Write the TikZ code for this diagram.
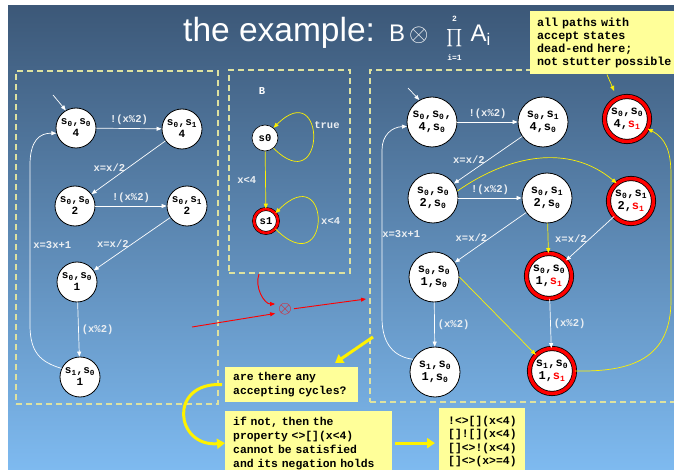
\documentclass[tikz,border=0pt]{standalone}
\usepackage{exscale}
\usepackage{fontspec}
\setmainfont{Liberation Sans}
\setmonofont{Liberation Mono}
\usetikzlibrary{arrows.meta}

\definecolor{bgtop}{RGB}{60,88,120}
\definecolor{bgbot}{RGB}{126,186,240}
\definecolor{dashc}{RGB}{222,226,160}
\definecolor{notec}{RGB}{255,255,153}
\definecolor{lblc}{RGB}{234,238,242}

\newcommand{\sn}[1]{s\textsubscript{#1}}
\newcommand{\sr}[1]{\textcolor{red}{s\textsubscript{#1}}}

\begin{document}
\begin{tikzpicture}[x=1pt, y=-1pt]
	\tikzstyle{panel} = [rectangle, draw=dashc, line width=1.2pt, dash pattern=on 6pt off 4pt, inner sep=0pt]
	\tikzstyle{lstate} = [circle, draw=black, line width=0.8pt, fill=white, minimum size=40pt, inner sep=0pt, align=center, font=\ttfamily\bfseries\fontsize{11}{12}\selectfont]
	\tikzstyle{rstate} = [lstate, minimum size=50pt, font=\ttfamily\bfseries\fontsize{12}{12.5}\selectfont]
	\tikzstyle{accept} = [rstate, minimum size=45pt, double=red, double distance=3.5pt]
	\tikzstyle{mstate} = [circle, draw=black, line width=0.6pt, fill=white, minimum size=26pt, inner sep=0pt, font=\ttfamily\bfseries\fontsize{10.5}{11}\selectfont]
	\tikzstyle{maccept} = [mstate, minimum size=24pt, double=red, double distance=2.6pt]
	\tikzstyle{tr} = [draw=white, line width=0.7pt, -{Triangle[length=5pt, width=4pt]}]
	\tikzstyle{ytr} = [tr, draw=yellow]
	\tikzstyle{rtr} = [tr, draw=red, line width=0.9pt]
	\tikzstyle{lab} = [text=lblc, inner sep=3pt, font=\ttfamily\bfseries\fontsize{10.5}{11}\selectfont]
	\tikzstyle{note} = [fill=notec, text=black, inner xsep=8pt, align=left, font=\ttfamily\bfseries\fontsize{11.4}{14}\selectfont]
	\tikzstyle{bigarrow} = [draw=yellow, line width=3pt, -{Triangle[length=8pt, width=10pt]}]

	\fill[white] (0,0) rectangle (674,470);
	\shade[top color=bgtop, bottom color=bgbot] (8,6) rectangle (674,470);
	\useasboundingbox (0,0) rectangle (674,470);

	\node[anchor=base west, inner sep=0pt, text=white] (title) at (183,42) {\fontsize{33.5}{36}\selectfont the example:\hspace{14pt}\fontsize{24}{28}\selectfont B\,$\otimes$\hspace{18pt}{\fontsize{17}{18}\selectfont$\prod\limits_{\hbox{\rule{0pt}{11pt}\fontsize{8}{8}\selectfont\ttfamily\bfseries i=1}}^{\hbox{\rule[-6pt]{0pt}{6pt}\fontsize{8}{8}\selectfont\ttfamily\bfseries 2}}$}\hspace{8pt}A\textsubscript{i}};

	\node[panel, minimum width=202pt, minimum height=333pt] (lpanel) at (117,237.5) {};
	\node[panel, minimum width=121pt, minimum height=203pt] (mpanel) at (289.5,171.5) {};
	\node[panel, minimum width=310pt, minimum height=332pt] (rpanel) at (525,236) {};

	\node[lstate] (l1) at (76,128) {\sn0,\sn0\\4};
	\node[lstate] (l2) at (182,129) {\sn0,\sn1\\4};
	\node[lstate] (l3) at (75,206) {\sn0,\sn0\\2};
	\node[lstate] (l4) at (187,206) {\sn0,\sn1\\2};
	\node[lstate] (l5) at (77,282) {\sn0,\sn0\\1};
	\node[lstate] (l6) at (80,377) {\sn1,\sn0\\1};
	\coordinate (l0) at (53,95);

	\draw[tr] (l0) -- (l1.120);
	\draw[tr] (l1) -- node[lab, above] {!(x\%2)} (l2);
	\draw[tr] (l2) -- node[lab, left] {x=x/2} (l3);
	\draw[tr] (l3) -- node[lab, above] {!(x\%2)} (l4);
	\draw[tr] (l4) -- node[lab, left] {x=x/2} (l5);
	\draw[tr] (l5) -- node[lab, right] {(x\%2)} (l6);
	\draw[tr] (l6.155) .. controls (40,362) and (30,352) .. (30,325) -- node[lab, right] {x=3x+1} (30,165) .. controls (30,140) and (40,133) .. (l1.195);

	\node[lab, text=white] (bname) at (262,91) {B};
	\node[mstate] (m0) at (265,138) {s0};
	\node[maccept] (m1) at (266,221) {s1};
	\draw[ytr] (m0) -- node[lab, left=6pt] {x<4} (m1);
	\draw[ytr] (m0.-50) .. controls +(45:75) and +(-45:75) .. node[lab, right, pos=0.62] {true} (m0.50);
	\draw[ytr] (m1.-40) .. controls +(45:80) and +(-45:80) .. node[lab, right] {x<4} (m1.40);

	\node[text=red, inner sep=0pt, font=\fontsize{19}{19}\selectfont] (prod) at (285,309) {$\otimes$};
	\coordinate (bout) at (259,274);
	\coordinate (lout) at (192,327);
	\coordinate (rin) at (366,299);
	\draw[rtr, shorten >=3pt] (bout) to[out=-110, in=180] ([yshift=5pt]prod.west);
	\draw[rtr, shorten >=3pt] (lout) -- ([yshift=-4pt]prod.west);
	\draw[rtr, shorten <=2pt] (prod.east) -- (rin);

	\node[rstate] (r1) at (432,122) {\sn0,\sn0,\\4,\sn0};
	\node[rstate] (r2) at (543,122) {\sn0,\sn1\\4,\sn0};
	\node[accept] (r3) at (627,119) {\sn0,\sn0\\4,\sr1};
	\node[rstate] (r4) at (433,198) {\sn0,\sn0\\2,\sn0};
	\node[rstate] (r5) at (547,198) {\sn0,\sn1\\2,\sn0};
	\node[accept] (r6) at (631,201) {\sn0,\sn1\\2,\sr1};
	\node[rstate] (r7) at (434,277) {\sn0,\sn0\\1,\sn0};
	\node[accept] (r8) at (549,276) {\sn0,\sn0\\1,\sr1};
	\node[rstate] (r9) at (435,372) {\sn1,\sn0\\1,\sn0};
	\node[accept] (r10) at (552,371) {\sn1,\sn0\\1,\sr1};
	\coordinate (r0) at (408,88);

	\draw[tr] (r0) -- (r1.120);
	\draw[tr] (r1) -- node[lab, above] {!(x\%2)} (r2);
	\draw[tr] (r2) -- node[lab, left] {x=x/2} (r4);
	\draw[tr] (r4) -- node[lab, above] {!(x\%2)} (r5);
	\draw[ytr] (r4.16) to[out=35, in=140] (r6.129);
	\draw[tr] (r5) -- node[lab, left] {x=x/2} (r7);
	\draw[ytr] (r5) -- (r8);
	\draw[tr] (r6) -- node[lab, left] {x=x/2} (r8);
	\draw[tr] (r7) -- node[lab, right] {(x\%2)} (r9);
	\draw[ytr] (r7.east) -- (r10.135);
	\draw[tr] (r8) -- node[lab, right] {(x\%2)} (r10);
	\draw[tr] (r9.150) .. controls (395,357) and (382,345) .. (382,318) -- node[lab, right, inner sep=0pt] {x=3x+1} (382,150) .. controls (382,135) and (392,127) .. (r1.190);
	\draw[ytr] (r10.east) .. controls (630,372) and (671,360) .. (671,300) -- (671,175) .. controls (671,150) and (665,138) .. (r3.-25);

	\node[note, anchor=north west, text width=150pt, inner xsep=7pt, inner ysep=6.5pt, font=\ttfamily\bfseries\fontsize{11.7}{13.1}\selectfont] (paths) at (530,11) {all paths with\\accept states\\dead-end here;\\not stutter possible};
	\draw[ytr, shorten >=8pt] ([xshift=77pt]paths.south west) -- (r3.115);

	\node[note, anchor=north west, text width=117pt, minimum height=35pt] (cycles) at (225,367) {are there any\\accepting cycles?};
	\node[note, anchor=north west, text width=151pt, inner ysep=5.5pt] (negation) at (225,411) {if not, then the\\property <>[](x<4)\\cannot be satisfied\\and its negation holds};
	\node[note, anchor=north west, text width=68pt, inner xsep=9pt, inner ysep=8pt, font=\ttfamily\bfseries\fontsize{11.4}{13.4}\selectfont] (formulas) at (439,408) {!<>[](x<4)\\{}[]![](x<4)\\{}[]<>!(x<4)\\{}[]<>(x>=4)};

	\coordinate (ask) at (373,337);
	\coordinate (askend) at (335,363);
	\draw[bigarrow] (ask) -- (askend);
	\draw[bigarrow, shorten <=3pt] (cycles.west) .. controls (168,382) and (175,447) .. (negation.west);
	\draw[bigarrow, shorten <=3pt, shorten >=4pt] (negation.east) -- (negation.east -| formulas.west);
\end{tikzpicture}
\end{document}
